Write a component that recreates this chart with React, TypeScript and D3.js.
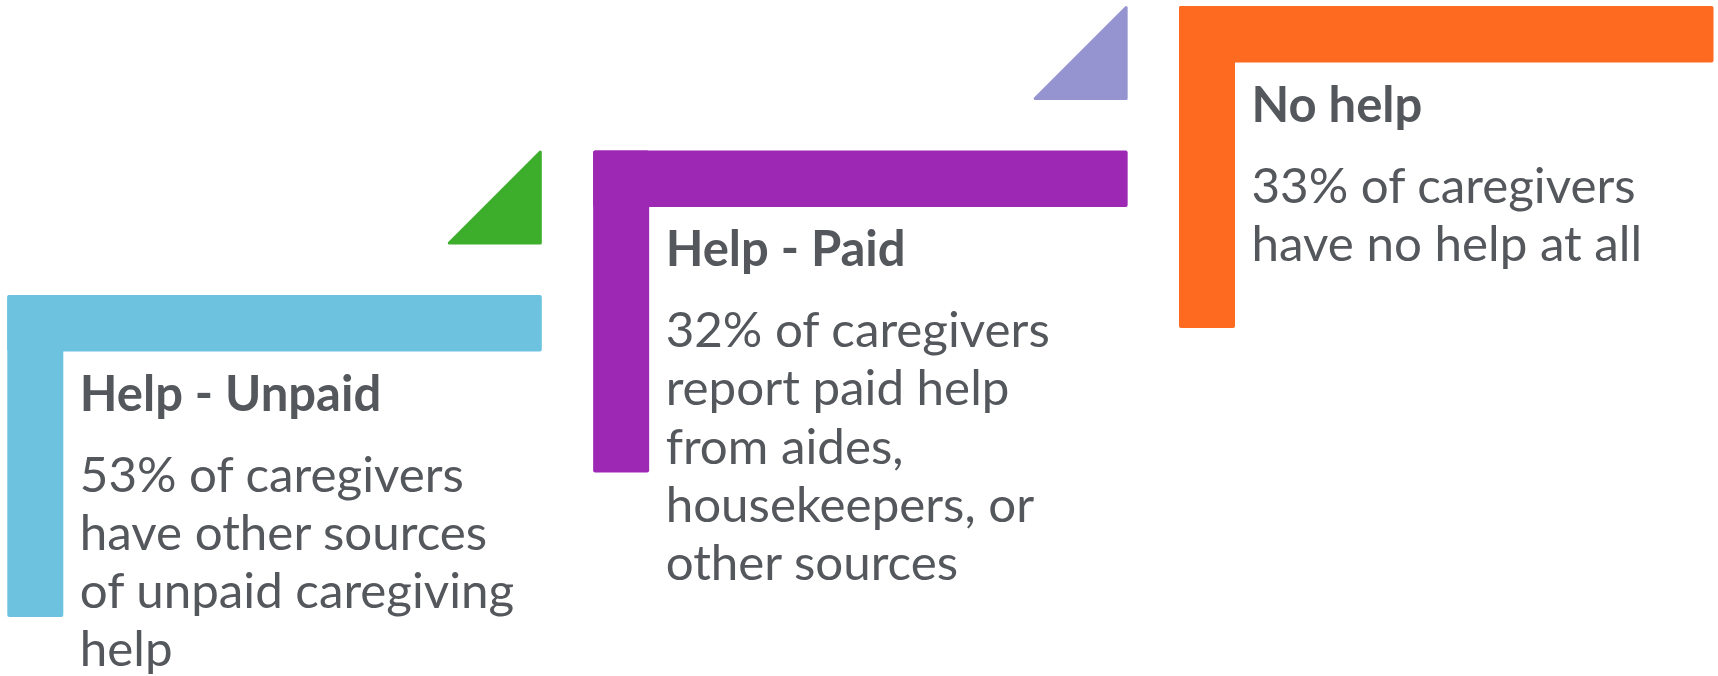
import React, { useEffect } from "react";
import * as d3 from "d3";

// ---- data ----
const categories = ["Help - Unpaid", "Help - Paid", "No help"];
const percents = [53, 32, 33];
const firstLineSuffix = ["of caregivers", "of caregivers", "of caregivers"];
const otherLines: string[][] = [
  ["have other sources", "of unpaid caregiving", "help"],
  ["report paid help", "from aides,", "housekeepers, or", "other sources"],
  ["have no help at all"],
];
const barColors = ["#6CC2DF", "#9D28B3", "#FF6A21"];
const triangleColors = ["#3DAE2B", "#9594D0"];

const W = 1718;
const H = 676;
const TEXT = "#54575C";
const FONT = "Lato, 'Open Sans', sans-serif";

export default function App() {
  useEffect(() => {
    document.body.style.margin = "0";
  }, []);

  const idx = d3.range(categories.length);
  const x = d3.scaleLinear().domain([0, 2]).range([7.3, 1179]);
  const y = d3.scaleLinear().domain([0, 2]).range([295, 6]);

  const blockW = 534.5;
  const armH = 56.5;
  const armW = 56;
  const blockH = 322;
  const triSize = 94;
  const titleDy = 115.5;
  const bodyDy = 81;
  const lineH = 58.3;
  const textDx = 72.5;

  const triPath = (i: number) => {
    const right = x(i) + blockW;
    const top = y(i + 1);
    const p = d3.path();
    const inset = 1.5;
    p.moveTo(right - inset, top + inset);
    p.lineTo(right - inset, top + triSize - inset);
    p.lineTo(right - triSize + inset, top + triSize - inset);
    p.closePath();
    return p.toString();
  };

  return (
    <svg width={W} height={H} style={{ display: "block" }} xmlns="http://www.w3.org/2000/svg">
      <rect width={W} height={H} fill="#ffffff" />
      {idx.slice(0, 2).map((i) => (
        <path
          key={"t" + i}
          d={triPath(i)}
          fill={triangleColors[i]}
          stroke={triangleColors[i]}
          strokeWidth={3}
          strokeLinejoin="round"
        />
      ))}
      {idx.map((i) => {
        const x0 = x(i);
        const y0 = y(i);
        const lines = [`${percents[i]}% ${firstLineSuffix[i]}`, ...otherLines[i]];
        return (
          <g key={"b" + i}>
            <rect x={x0} y={y0} width={blockW} height={armH} rx={2} fill={barColors[i]} />
            <rect x={x0} y={y0} width={armW} height={blockH} rx={2} fill={barColors[i]} />
            <text
              x={x0 + textDx}
              y={y0 + titleDy}
              fill={TEXT}
              fontFamily={FONT}
              fontWeight={700}
              fontSize={49}
            >
              {categories[i]}
            </text>
            {lines.map((ln, j) => (
              <text
                key={j}
                x={x0 + textDx}
                y={y0 + titleDy + bodyDy + j * lineH}
                fill={TEXT}
                fontFamily={FONT}
                fontSize={49.3}
              >
                {ln}
              </text>
            ))}
          </g>
        );
      })}
    </svg>
  );
}
